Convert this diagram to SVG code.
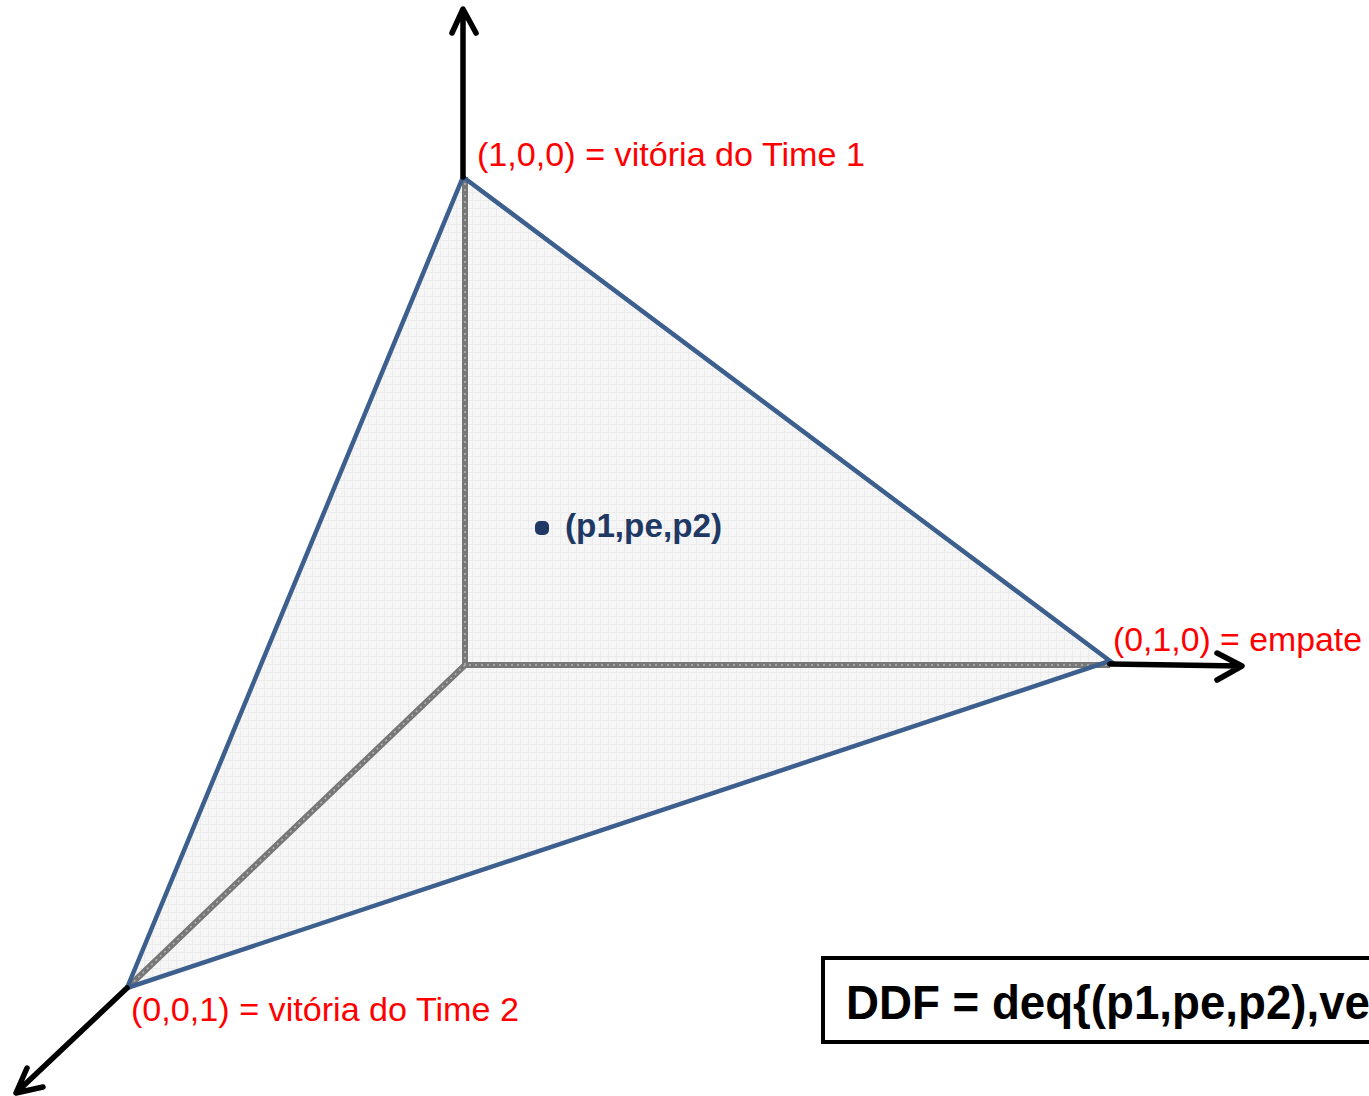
<svg xmlns="http://www.w3.org/2000/svg" width="1369" height="1096" viewBox="0 0 1369 1096">
<defs>
<pattern id="grid" width="8" height="8" patternUnits="userSpaceOnUse">
<rect width="8" height="8" fill="#f6f6f6"/>
<path d="M0 0.5H8M0.5 0V8" stroke="#ebebeb" stroke-width="1"/>
</pattern>
<style>
.red{font-family:"Liberation Sans",Arial,sans-serif;font-size:33px;fill:#ff0000}
.blue{font-family:"Liberation Sans",Arial,sans-serif;font-size:34px;font-weight:bold;fill:#1f3864}
.box{font-family:"Liberation Sans",Arial,sans-serif;font-size:48px;font-weight:bold;fill:#000}
.axis{stroke:#000;stroke-width:5.5;fill:none;stroke-linecap:round;stroke-linejoin:round}
.inner{stroke:#777;stroke-width:6;fill:none}
.innerDash{stroke:#b5b5b5;stroke-width:1.5;fill:none;stroke-dasharray:2 4}
</style>
</defs>
<rect width="1369" height="1096" fill="#fff"/>
<g id="simplex">
<polygon points="463,177 1110,661 127,988" fill="url(#grid)"/>
</g>
<g id="connectors">
<path class="inner" d="M465,177V665H1110M465,665L127,988"/>
<path class="innerDash" d="M465,177V665H1110M465,665L127,988"/>
<polygon points="463,177 1110,661 127,988" fill="none" stroke="#3c5f8e" stroke-width="4.5" stroke-linejoin="miter"/>
<path class="axis" d="M463,177V10M452,33L463,9L476,33"/>
<path class="axis" d="M1110,664L1240,666M1217,653L1242,666L1217,680"/>
<path class="axis" d="M127,988L18,1091M27,1068L16,1093L43,1087"/>
</g>
<g id="v100"><text class="red" x="477" y="166" textLength="388" lengthAdjust="spacingAndGlyphs">(1,0,0) = vitória do Time 1</text></g>
<g id="v010"><text class="red" x="1113" y="651" textLength="249" lengthAdjust="spacingAndGlyphs">(0,1,0) = empate</text></g>
<g id="v001"><text class="red" x="131" y="1021" textLength="388" lengthAdjust="spacingAndGlyphs">(0,0,1) = vitória do Time 2</text></g>
<g id="point">
<rect x="535" y="521" width="14" height="14" rx="5" fill="#1f3864"/>
<text class="blue" x="565" y="537" textLength="157" lengthAdjust="spacingAndGlyphs">(p1,pe,p2)</text>
</g>
<g id="ddf">
<rect x="823" y="958" width="560" height="84" fill="#fff" stroke="#000" stroke-width="4"/>
<text class="box" x="846" y="1019" textLength="524" lengthAdjust="spacingAndGlyphs">DDF = deq{(p1,pe,p2),ve</text>
</g>
</svg>
